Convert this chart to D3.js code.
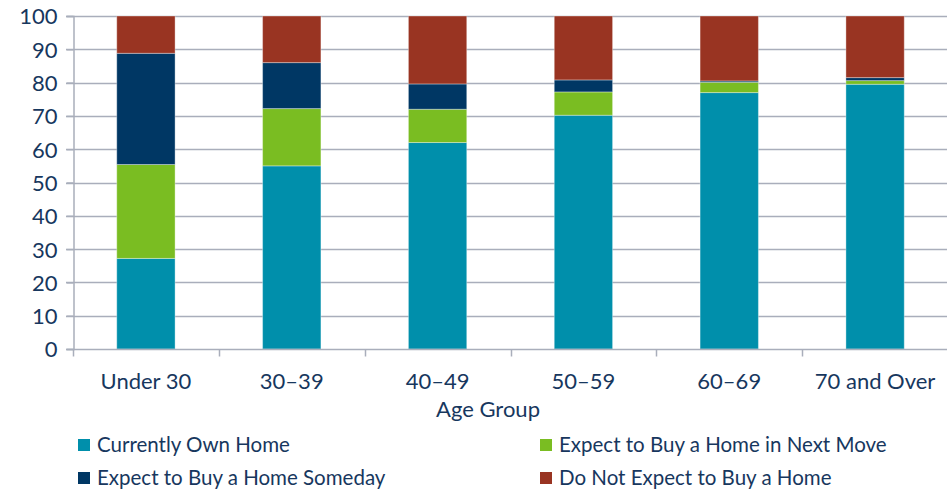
<!DOCTYPE html>
<html>
<head>
<meta charset="utf-8">
<script src="https://cdn.jsdelivr.net/npm/d3@7"></script>
<style>
  body { margin: 0; background: #fff; }
  text { font-family: Lato, "Open Sans", sans-serif; fill: #17375E; }
</style>
</head>
<body>
<svg id="chart" width="947" height="490"></svg>
<script>
// age groups along the x axis
var ageGroups = ["Under 30", "30\u201339", "40\u201349", "50\u201359", "60\u201369", "70 and Over"];
// series, bottom to top
var seriesNames = ["Currently Own Home", "Expect to Buy a Home in Next Move", "Expect to Buy a Home Someday", "Do Not Expect to Buy a Home"];
var ownHome   = [27.2, 55.0, 62.0, 70.2, 77.0, 79.5];
var nextMove  = [28.2, 17.2, 10.0,  7.0,  3.1,  1.1];
var someday   = [33.4, 13.8,  7.6,  3.6,  0.4,  0.9];
var notExpect = [11.2, 14.0, 20.4, 19.2, 19.5, 18.5];
var yTicks = [0, 10, 20, 30, 40, 50, 60, 70, 80, 90, 100];
var colors = ["#008FAB", "#7ABD22", "#003764", "#993422"];

var svg = d3.select("#chart");
var plotLeft = 73, plotRight = 948, plotTop = 16, plotBottom = 349;

var rows = ageGroups.map(function(g, i) {
	return { group: g, s0: ownHome[i], s1: nextMove[i], s2: someday[i], s3: notExpect[i] };
});
var stack = d3.stack().keys(["s0", "s1", "s2", "s3"]);
var layers = stack(rows);

var x = d3.scaleBand().domain(ageGroups).range([plotLeft, plotRight]).paddingInner(0.6).paddingOuter(0.3);
var xb = d3.scaleBand().domain(ageGroups).range([plotLeft, plotRight]);
var y = d3.scaleLinear().domain([0, 100]).range([plotBottom, plotTop]);

// gridlines
svg.append("g")
	.selectAll("line").data(yTicks.slice(1)).enter().append("line")
	.attr("x1", plotLeft - 7).attr("x2", plotRight)
	.attr("y1", function(d) { return Math.round(y(d)) + 0.5; })
	.attr("y2", function(d) { return Math.round(y(d)) + 0.5; })
	.style("stroke", "#A9AEBB").style("stroke-width", 1.5);

// bars
svg.append("g").selectAll("g").data(layers).enter().append("g")
	.style("fill", function(d, i) { return colors[i]; })
	.selectAll("rect").data(function(d) { return d; }).enter().append("rect")
	.attr("x", function(d) { return x(d.data.group); })
	.attr("width", x.bandwidth())
	.attr("y", function(d) { return y(d[1]); })
	.attr("height", function(d) { return y(d[0]) - y(d[1]); })
	.style("stroke", "rgba(255,255,255,0.35)")
	.style("stroke-width", 1);

// y axis
var yAxis = d3.axisLeft(y).tickValues(yTicks).tickSize(7).tickPadding(9);
var gy = svg.append("g").attr("transform", "translate(" + (plotLeft + 0.5) + ",0)").call(yAxis);
gy.select(".domain").style("stroke", "#A9AEBB").style("stroke-width", 1.5);
gy.selectAll(".tick line").style("stroke", "#A9AEBB").style("stroke-width", 1.5);
gy.selectAll("text").style("font-size", "22px").style("fill", "#17375E").attr("dy", "0.36em");

// x axis with ticks at the category boundaries
var gx = svg.append("g").attr("transform", "translate(0," + (plotBottom + 0.5) + ")");
gx.append("line").attr("x1", plotLeft - 7).attr("x2", plotRight)
	.style("stroke", "#A9AEBB").style("stroke-width", 1.5);
gx.selectAll(".bt").data(ageGroups.concat([null])).enter().append("line")
	.attr("class", "bt")
	.attr("x1", function(d, i) { return Math.round(plotLeft + i * xb.step()) + 0.5; })
	.attr("x2", function(d, i) { return Math.round(plotLeft + i * xb.step()) + 0.5; })
	.attr("y1", 0).attr("y2", 7)
	.style("stroke", "#A9AEBB").style("stroke-width", 1.5);
gx.selectAll("text").data(ageGroups).enter().append("text")
	.attr("x", function(d) { return xb(d) + xb.bandwidth() / 2; })
	.attr("y", 39)
	.attr("text-anchor", "middle")
	.style("font-size", "22px")
	.text(function(d) { return d; });

// axis title sits a little left of the plot centre, as in the original
svg.append("text")
	.attr("x", 488).attr("y", 417)
	.attr("text-anchor", "middle")
	.style("font-size", "22px")
	.text("Age Group");

// legend, two columns
var legendPos = [[78, 445], [540, 445], [78, 478], [540, 478]];
var legend = svg.append("g").selectAll("g").data(seriesNames).enter().append("g")
	.attr("transform", function(d, i) { return "translate(" + legendPos[i][0] + "," + legendPos[i][1] + ")"; });
legend.append("rect")
	.attr("x", 0).attr("y", -6).attr("width", 12).attr("height", 12)
	.style("fill", function(d, i) { return colors[i]; });
legend.append("text")
	.attr("x", 19).attr("y", 0).attr("dy", "0.35em")
	.style("font-size", "20.5px")
	.text(function(d) { return d; });
</script>
</body>
</html>
